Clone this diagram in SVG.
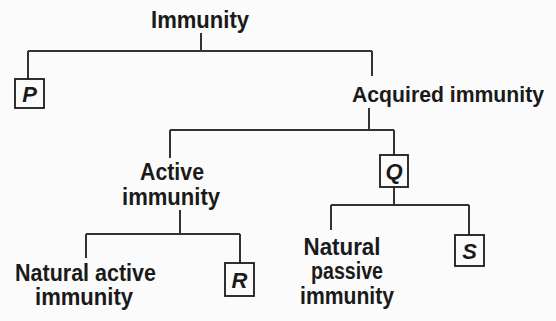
<svg xmlns="http://www.w3.org/2000/svg" width="556" height="321" viewBox="0 0 556 321">
<style>
.t{font-family:"Liberation Sans",Arial,sans-serif;font-weight:bold;font-size:23px;fill:#1a1a1a}
.c{text-anchor:middle}
.box{fill:none;stroke:#1a1a1a;stroke-width:1.8}
.l{font-family:"Liberation Sans",Arial,sans-serif;font-weight:bold;font-style:italic;font-size:22px;fill:#1a1a1a;text-anchor:middle}
#connectors path{fill:none;stroke:#333;stroke-width:2}
</style>
<rect width="556" height="321" fill="#fbfbfb"/>
<g id="connectors">
<path d="M201 33V51M28 51H372M28 51V79M372 51V76"/>
<path d="M369 108V130M170 130H394M170 130V158M394 130V155"/>
<path d="M394 187V205M331 205H469M331 205V230M469 205V235"/>
<path d="M180 210V234M86 234H240M86 234V258M240 234V263"/>
</g>
<g id="immunity"><text class="t c" x="200" y="28" textLength="98" lengthAdjust="spacingAndGlyphs">Immunity</text></g>
<g id="P"><rect class="box" x="15" y="79" width="29" height="29"/><text class="l" x="29.5" y="101.5">P</text></g>
<g id="acquired"><text class="t" x="352" y="102" style="font-size:21.5px" textLength="192" lengthAdjust="spacingAndGlyphs">Acquired immunity</text></g>
<g id="active"><text class="t c" x="172" y="180" textLength="64" lengthAdjust="spacingAndGlyphs">Active</text><text class="t c" x="171" y="205" textLength="98" lengthAdjust="spacingAndGlyphs">immunity</text></g>
<g id="Q"><rect class="box" x="380" y="155" width="28" height="32"/><text class="l" x="394" y="179">Q</text></g>
<g id="natural-active"><text class="t" x="15" y="281" textLength="141" lengthAdjust="spacingAndGlyphs">Natural active</text><text class="t c" x="84" y="305" textLength="98" lengthAdjust="spacingAndGlyphs">immunity</text></g>
<g id="R"><rect class="box" x="225" y="263" width="29" height="33"/><text class="l" x="239.5" y="288">R</text></g>
<g id="natural-passive"><text class="t c" x="342" y="255" textLength="77" lengthAdjust="spacingAndGlyphs">Natural</text><text class="t c" x="347" y="279" textLength="72" lengthAdjust="spacingAndGlyphs">passive</text><text class="t c" x="347" y="304" textLength="94" lengthAdjust="spacingAndGlyphs">immunity</text></g>
<g id="S"><rect class="box" x="455" y="235" width="29" height="31"/><text class="l" x="469.5" y="258.5">S</text></g>
</svg>
